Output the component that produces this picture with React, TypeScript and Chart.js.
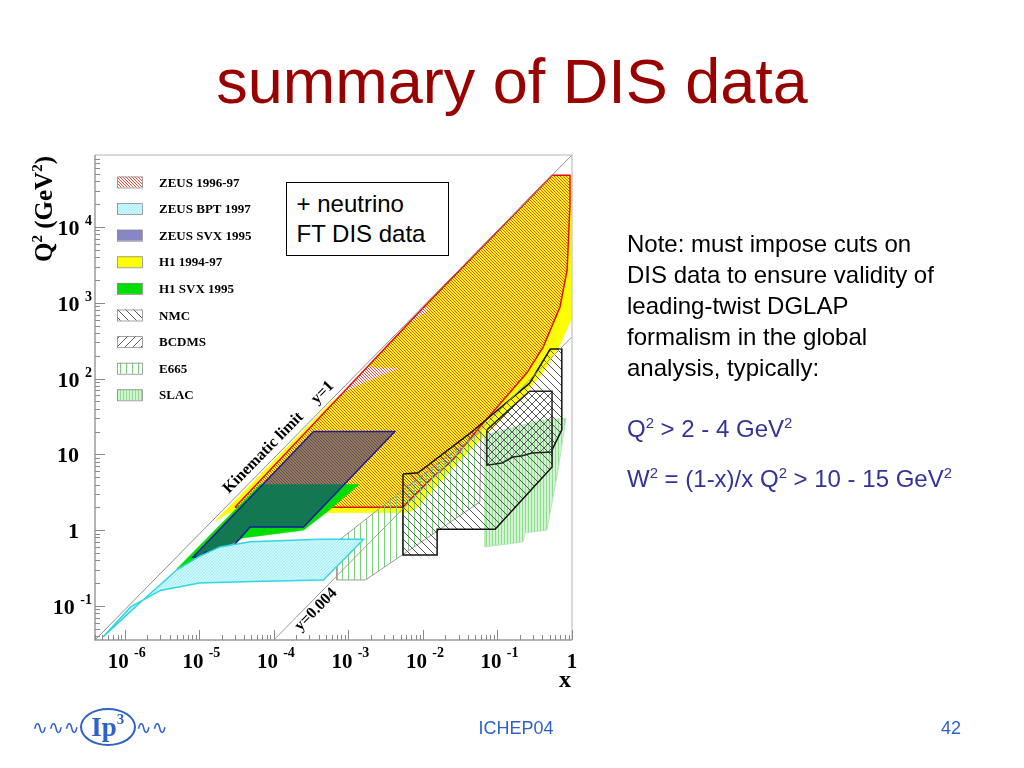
import React, { useEffect, useRef } from "react";
import { Chart, registerables } from "chart.js";

Chart.register(...registerables);

type Pt = [number, number];

// ---------- axis ranges (x, Q^2 in GeV^2) ----------
const X_RANGE: Pt = [3.98e-7, 1];
const Q2_RANGE: Pt = [0.0355, 89100];
const S_HERA = 89100; // Q^2 = y s x

// ---------- tick labels ----------
const xTickValues = [1e-6, 1e-5, 1e-4, 1e-3, 1e-2, 1e-1, 1];
const xTickBase = ["10", "10", "10", "10", "10", "10", "1"];
const xTickExp = ["-6", "-5", "-4", "-3", "-2", "-1", ""];
const q2TickValues = [0.1, 1, 10, 100, 1000, 10000];
const q2TickBase = ["10", "1", "10", "10", "10", "10"];
const q2TickExp = ["-1", "", "", "2", "3", "4"];

// ---------- reference lines ----------
const kinematicLimit: Pt[] = [[3.98e-7, 0.0355], [1, 89100]];
const yLine0004: Pt[] = [[9.97e-5, 0.0355], [1, 356]];
const lineLabelText = ["Kinematic limit", "y=1", "y=0.004"];
const lineLabelX = [2.9e-5, 4.4e-4, 1.7e-4];
const lineLabelY = [1, 1, 0.004];

// ---------- kinematic regions (x, Q^2) ----------
const h1_9497: Pt[] = [
  [1.6e-5, 1.3], [6.0e-4, 50], [1.0e-3, 70], [4.9e-3, 138], [1.8e-3, 143],
  [5.7e-3, 480], [0.0136, 880], [0.0097, 860], [0.54, 48000], [0.97, 48000],
  [0.97, 600], [0.69, 280], [0.43, 130], [0.23, 61], [0.11, 28], [0.043, 11.4],
  [0.017, 4.3], [7.8e-3, 1.85], [5.7e-3, 1.7], [2.5e-5, 1.7], [1.6e-5, 1.3],
];
const zeus9697: Pt[] = [
  [3.0e-5, 2.0], [0.0097, 830], [0.54, 48000], [0.94, 48000], [0.94, 20000],
  [0.86, 2700], [0.69, 880], [0.41, 260], [0.25, 120], [0.12, 52], [0.058, 23],
  [0.025, 8.4], [0.0125, 4.6], [0.0061, 2.3], [0.0054, 2.0], [3.0e-5, 2.0],
];
const h1svx95: Pt[] = [
  [5.0e-6, 0.31], [6.8e-6, 0.31], [1.1e-5, 0.44], [3.9e-5, 0.79], [2.5e-4, 1.0],
  [5.2e-4, 1.75], [1.4e-3, 4.0], [6.5e-5, 4.0], [5.0e-6, 0.31],
];
const zeusSvx95: Pt[] = [
  [3.4e-4, 20], [4.2e-3, 20], [2.5e-4, 1.1], [4.8e-5, 1.1], [2.4e-5, 0.51],
  [1.2e-5, 0.51], [1.1e-5, 0.44], [8.2e-6, 0.44], [3.4e-4, 20],
];
const zeusBpt97: Pt[] = [
  [5.1e-7, 0.039], [1.6e-6, 0.11], [5.0e-6, 0.3], [1.0e-5, 0.45], [1.9e-5, 0.6],
  [4.8e-5, 0.7], [4.2e-4, 0.76], [1.6e-3, 0.76], [4.6e-4, 0.22], [5.2e-5, 0.21],
  [1.0e-5, 0.2], [3.0e-6, 0.16], [1.2e-6, 0.097], [5.1e-7, 0.039],
];
const e665: Pt[] = [
  [7.0e-4, 0.7], [7.0e-4, 0.22], [1.7e-3, 0.22], [0.058, 2.35], [0.06, 20],
  [6.1e-3, 3.7], [7.0e-4, 0.7],
];
const nmc: Pt[] = [
  [5.4e-3, 5.5], [5.4e-3, 0.47], [0.0155, 0.47], [0.0155, 1.03], [0.093, 1.03],
  [0.54, 6.8], [0.54, 11.4], [0.73, 21], [0.73, 245], [0.51, 245], [0.27, 87],
  [0.043, 19], [8.6e-3, 5.7], [5.4e-3, 5.5],
];
const bcdms: Pt[] = [
  [0.072, 21], [0.27, 68], [0.54, 68], [0.54, 10.7], [0.29, 10.4], [0.21, 9.5],
  [0.16, 9.2], [0.115, 7.7], [0.072, 7.2], [0.072, 21],
];
const slac: Pt[] = [
  [0.068, 18], [0.068, 0.6], [0.22, 0.7], [0.234, 0.92], [0.46, 1.0], [0.65, 6.2],
  [0.83, 30], [0.37, 28], [0.068, 18],
];

const legendLabels = [
  "ZEUS 1996-97", "ZEUS BPT 1997", "ZEUS SVX 1995", "H1 1994-97", "H1 SVX 1995",
  "NMC", "BCDMS", "E665", "SLAC",
];

const SERIF = '"Liberation Serif", "Times New Roman", serif';
const SANS = '"Liberation Sans", Arial, Helvetica, sans-serif';

function tile(n: number, bg: string | null, draw: (g: CanvasRenderingContext2D) => void) {
  const c = document.createElement("canvas");
  c.width = n;
  c.height = n;
  const g = c.getContext("2d")!;
  if (bg) {
    g.fillStyle = bg;
    g.fillRect(0, 0, n, n);
  }
  draw(g);
  return g.createPattern(c, "repeat")!;
}
function diag(g: CanvasRenderingContext2D, n: number, color: string, down: boolean) {
  g.fillStyle = color;
  for (let i = 0; i < n; i++) g.fillRect(down ? i : n - 1 - i, i, 1, 1);
}

type Rich = { t: string; sup?: boolean };
function drawRich(
  ctx: CanvasRenderingContext2D, parts: Rich[], x: number, y: number,
  align: "left" | "center" | "right", baseFont: string, supFont: string, rise: number
) {
  let w = 0;
  const widths = parts.map((p) => {
    ctx.font = p.sup ? supFont : baseFont;
    const m = ctx.measureText(p.t).width;
    w += m;
    return m;
  });
  let cx = align === "left" ? x : align === "center" ? x - w / 2 : x - w;
  ctx.textAlign = "left";
  ctx.textBaseline = "alphabetic";
  parts.forEach((p, i) => {
    ctx.font = p.sup ? supFont : baseFont;
    ctx.fillText(p.t, cx, p.sup ? y - rise : y);
    cx += widths[i];
  });
}

export default function App() {
  const ref = useRef<HTMLCanvasElement>(null);

  useEffect(() => {
    const canvas = ref.current!;
    const pZeus = tile(3, null, (g) => diag(g, 3, "rgb(236,78,62)", true));
    const pBpt = tile(3, "rgb(205,248,251)", (g) => diag(g, 3, "rgb(165,236,244)", false));
    const pSvx = "rgba(35,35,150,0.55)";
    const pNmc = tile(8, null, (g) => diag(g, 8, "rgb(85,85,85)", true));
    const pBcdms = tile(8, null, (g) => diag(g, 8, "rgb(95,95,95)", false));
    const pE665 = tile(6, null, (g) => {
      g.fillStyle = "rgb(125,208,125)";
      g.fillRect(0, 0, 1, 6);
    });
    const pSlac = tile(3, "rgb(208,244,208)", (g) => {
      g.fillStyle = "rgb(145,220,145)";
      g.fillRect(0, 0, 1, 3);
    });

    const toXY = (pts: Pt[]) => pts.map(([x, y]) => ({ x, y }));
    const region = (label: string, pts: Pt[], bg: any, border: string, bw: number, order: number) => ({
      label,
      data: toXY(pts),
      showLine: true,
      fill: "shape" as const,
      backgroundColor: bg,
      borderColor: border,
      borderWidth: bw,
      pointRadius: 0,
      pointHoverRadius: 0,
      tension: 0,
      order,
    });

    const regionStyles: Record<string, { bg: any; border: string }> = {
      "ZEUS 1996-97": { bg: pZeus, border: "#e01010" },
      "ZEUS BPT 1997": { bg: pBpt, border: "#2ed6e6" },
      "ZEUS SVX 1995": { bg: pSvx, border: "#1a1a9e" },
      "H1 1994-97": { bg: "#ffff00", border: "#ffff00" },
      "H1 SVX 1995": { bg: "#00dd00", border: "#00dd00" },
      NMC: { bg: pNmc, border: "#111111" },
      BCDMS: { bg: pBcdms, border: "#222222" },
      E665: { bg: pE665, border: "#9a9a9a" },
      SLAC: { bg: pSlac, border: "#b8e6b8" },
    };
    const rs = (k: string) => regionStyles[k];

    const decor = {
      id: "decor",
      afterDraw(chart: any) {
        const { ctx, chartArea: a, scales } = chart;
        const xs = scales.x;
        const ys = scales.y;
        ctx.save();
        // frame
        ctx.lineWidth = 1.5;
        ctx.strokeStyle = "#cdcdcd";
        ctx.beginPath();
        ctx.moveTo(a.left, a.top);
        ctx.lineTo(a.right, a.top);
        ctx.lineTo(a.right, a.bottom);
        ctx.stroke();
        ctx.strokeStyle = "#9c9c9c";
        ctx.beginPath();
        ctx.moveTo(a.left, a.top);
        ctx.lineTo(a.left, a.bottom);
        ctx.lineTo(a.right, a.bottom);
        ctx.stroke();
        // ticks
        ctx.lineWidth = 1;
        ctx.strokeStyle = "#8a8a8a";
        ctx.beginPath();
        for (let d = -7; d <= 0; d++) {
          for (let m = 1; m <= 9; m++) {
            const v = m * Math.pow(10, d);
            if (v < X_RANGE[0] || v > X_RANGE[1] * 1.0001) continue;
            const px = Math.round(xs.getPixelForValue(v)) + 0.5;
            const len = m === 1 ? 10 : 5;
            ctx.moveTo(px, a.bottom);
            ctx.lineTo(px, a.bottom - len);
          }
        }
        for (let d = -2; d <= 4; d++) {
          for (let m = 1; m <= 9; m++) {
            const v = m * Math.pow(10, d);
            if (v < Q2_RANGE[0] || v > Q2_RANGE[1]) continue;
            const py = Math.round(ys.getPixelForValue(v)) + 0.5;
            const len = m === 1 ? 10 : 5;
            ctx.moveTo(a.left, py);
            ctx.lineTo(a.left + len, py);
          }
        }
        ctx.stroke();

        // tick labels
        ctx.fillStyle = "#000";
        xTickValues.forEach((v, i) => {
          const px = xs.getPixelForValue(v);
          const parts: Rich[] = [{ t: xTickBase[i] }];
          if (xTickExp[i]) parts.push({ t: " " }, { t: xTickExp[i], sup: true });
          drawRich(ctx, parts, px + (xTickExp[i] ? 2 : 0), a.bottom + 28, "center",
            `bold 21px ${SERIF}`, `bold 14px ${SERIF}`, 11);
        });
        q2TickValues.forEach((v, i) => {
          const py = ys.getPixelForValue(v);
          const parts: Rich[] = [{ t: q2TickBase[i] }];
          if (q2TickExp[i]) {
            parts.push({ t: " " }, { t: q2TickExp[i], sup: true });
            drawRich(ctx, parts, a.left - 3, py + 8, "right",
              `bold 22px ${SERIF}`, `bold 14px ${SERIF}`, 10);
          } else {
            drawRich(ctx, parts, a.left - 16, py + 8, "right",
              `bold 22px ${SERIF}`, `bold 14px ${SERIF}`, 10);
          }
        });

        // axis titles
        drawRich(ctx, [{ t: "x" }], a.right - 7, a.bottom + 47, "center",
          `bold 24px ${SERIF}`, `bold 14px ${SERIF}`, 0);
        ctx.save();
        ctx.translate(a.left - 51, a.top + 54);
        ctx.rotate(-Math.PI / 2);
        drawRich(ctx,
          [{ t: "Q" }, { t: "2", sup: true }, { t: " (GeV" }, { t: "2", sup: true }, { t: ")" }],
          0, 8, "center", `bold 25px ${SERIF}`, `bold 15px ${SERIF}`, 10);
        ctx.restore();

        // labels along lines
        lineLabelText.forEach((txt, i) => {
          const yv = lineLabelY[i];
          const x0 = lineLabelX[i];
          const x1 = x0 * 10;
          const p0x = xs.getPixelForValue(x0);
          const p0y = ys.getPixelForValue(yv * S_HERA * x0);
          const p1x = xs.getPixelForValue(x1);
          const p1y = ys.getPixelForValue(yv * S_HERA * x1);
          const ang = Math.atan2(p1y - p0y, p1x - p0x);
          ctx.save();
          ctx.translate(p0x, p0y);
          ctx.rotate(ang);
          ctx.font = `bold 16px ${SERIF}`;
          ctx.textAlign = "left";
          ctx.textBaseline = "alphabetic";
          ctx.fillStyle = "#000";
          ctx.fillText(txt, 0, yv === 1 ? -7 : 13);
          ctx.restore();
        });

        // legend
        legendLabels.forEach((lab, i) => {
          const cy = 182 + i * 26.6;
          const st = rs(lab);
          ctx.fillStyle = "#fff";
          ctx.fillRect(117, cy - 5.5, 25, 11);
          ctx.fillStyle = st.bg;
          ctx.fillRect(117, cy - 5.5, 25, 11);
          ctx.lineWidth = 0.8;
          ctx.strokeStyle = "#8c8c8c";
          ctx.strokeRect(117.5, cy - 5, 25, 11);
          ctx.fillStyle = "#000";
          ctx.font = `bold 13px ${SERIF}`;
          ctx.textAlign = "left";
          ctx.textBaseline = "alphabetic";
          ctx.fillText(lab, 159, cy + 4.5);
        });
        ctx.restore();
      },
    };

    const chart = new Chart(canvas, {
      type: "scatter",
      data: {
        datasets: [
          {
            label: "kinematic limit y=1",
            data: toXY(kinematicLimit),
            showLine: true,
            fill: false,
            borderColor: "#8e8e8e",
            borderWidth: 1,
            pointRadius: 0,
            order: 0,
          },
          {
            label: "y=0.004",
            data: toXY(yLine0004),
            showLine: true,
            fill: false,
            borderColor: "#9a9a9a",
            borderWidth: 1,
            pointRadius: 0,
            order: 0,
          },
          region("BCDMS", bcdms, rs("BCDMS").bg, rs("BCDMS").border, 1.5, 1),
          region("NMC", nmc, rs("NMC").bg, rs("NMC").border, 1.5, 2),
          region("ZEUS BPT 1997", zeusBpt97, rs("ZEUS BPT 1997").bg, rs("ZEUS BPT 1997").border, 1.5, 3),
          region("ZEUS SVX 1995", zeusSvx95, rs("ZEUS SVX 1995").bg, rs("ZEUS SVX 1995").border, 1.5, 4),
          region("H1 SVX 1995", h1svx95, rs("H1 SVX 1995").bg, rs("H1 SVX 1995").border, 0.5, 5),
          region("SLAC", slac, rs("SLAC").bg, rs("SLAC").border, 1, 6),
          region("E665", e665, rs("E665").bg, rs("E665").border, 1, 7),
          region("ZEUS 1996-97", zeus9697, rs("ZEUS 1996-97").bg, rs("ZEUS 1996-97").border, 1.5, 8),
          region("H1 1994-97", h1_9497, rs("H1 1994-97").bg, rs("H1 1994-97").border, 0.5, 9),
        ] as any,
      },
      options: {
        responsive: false,
        animation: false,
        events: [],
        layout: { padding: { left: 95, top: 155, right: 452, bottom: 128 } },
        plugins: {
          legend: { display: false },
          tooltip: { enabled: false },
          filler: { propagate: false },
        },
        scales: {
          x: { type: "logarithmic", min: X_RANGE[0], max: X_RANGE[1], display: false },
          y: { type: "logarithmic", min: Q2_RANGE[0], max: Q2_RANGE[1], display: false },
        },
      } as any,
      plugins: [decor],
    });
    return () => chart.destroy();
  }, []);

  const sup = (t: string) => (
    <span style={{ fontSize: "0.62em", position: "relative", top: "-0.6em" }}>{t}</span>
  );
  const waveStyle = { fontFamily: '"DejaVu Sans", sans-serif', fontSize: 19, lineHeight: "20px" };

  return (
    <div>
      <canvas
        ref={ref}
        width={1024}
        height={768}
        style={{ position: "absolute", left: 0, top: 0, width: 1024, height: 768 }}
      />
      <div
        style={{
          position: "absolute", left: 0, top: 50, width: 1024, textAlign: "center",
          fontFamily: SANS, fontSize: 63, lineHeight: "63px", color: "#990000",
        }}
      >
        summary of DIS data
      </div>
      <div
        style={{
          position: "absolute", left: 286, top: 182, width: 163, height: 74,
          boxSizing: "border-box", border: "1.5px solid #000", background: "#fff",
          padding: "6px 0 0 9.5px", fontFamily: SANS, fontSize: 24, lineHeight: "30px",
          color: "#000", whiteSpace: "nowrap",
        }}
      >
        + neutrino
        <br />
        FT DIS data
      </div>
      <div
        style={{
          position: "absolute", left: 627, top: 228, fontFamily: SANS, fontSize: 24,
          lineHeight: "31px", color: "#000", whiteSpace: "nowrap",
        }}
      >
        Note: must impose cuts on
        <br />
        DIS data to ensure validity of
        <br />
        leading-twist DGLAP
        <br />
        formalism in the global
        <br />
        analysis, typically:
      </div>
      <div
        style={{
          position: "absolute", left: 627, top: 413, fontFamily: SANS, fontSize: 24,
          lineHeight: "31px", color: "#333399", whiteSpace: "nowrap",
        }}
      >
        Q{sup("2")} &gt; 2 - 4 GeV{sup("2")}
      </div>
      <div
        style={{
          position: "absolute", left: 627, top: 463, fontFamily: SANS, fontSize: 24,
          lineHeight: "31px", color: "#333399", whiteSpace: "nowrap",
        }}
      >
        W{sup("2")} = (1-x)/x Q{sup("2")} &gt; 10 - 15 GeV{sup("2")}
      </div>
      <div
        style={{
          position: "absolute", left: 32, top: 706, display: "flex", alignItems: "center",
          color: "#2f62c8", height: 42,
        }}
      >
        <span style={waveStyle}>∿∿∿</span>
        <div
          style={{
            width: 52, height: 34, border: "2.5px solid #2f62c8", borderRadius: "50%",
            display: "flex", alignItems: "center", justifyContent: "center",
            fontFamily: SERIF, fontWeight: "bold", fontSize: 27, lineHeight: "27px",
          }}
        >
          Ip<span style={{ fontSize: 15, position: "relative", top: -8 }}>3</span>
        </div>
        <span style={waveStyle}>∿∿</span>
      </div>
      <div
        style={{
          position: "absolute", left: 416, top: 719, width: 200, textAlign: "center",
          fontFamily: SANS, fontSize: 18, lineHeight: "18px", color: "#2f62c8",
        }}
      >
        ICHEP04
      </div>
      <div
        style={{
          position: "absolute", left: 900, top: 719, width: 61, textAlign: "right",
          fontFamily: SANS, fontSize: 18, lineHeight: "18px", color: "#2f62c8",
        }}
      >
        42
      </div>
    </div>
  );
}
